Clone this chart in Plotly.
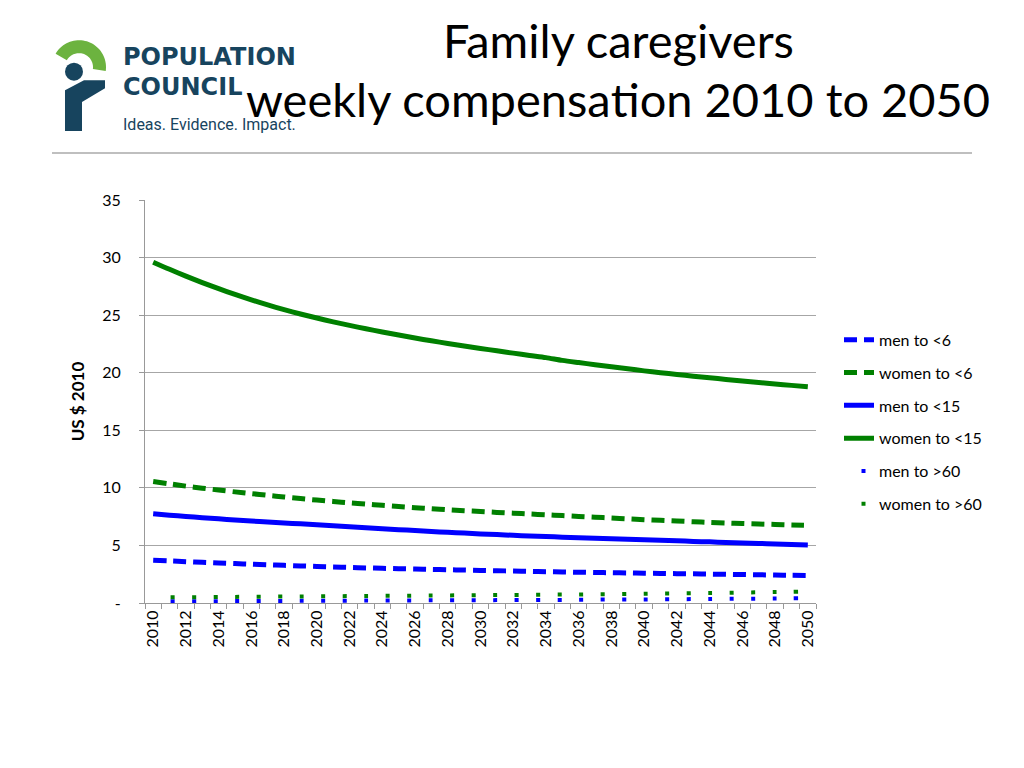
import numpy as np
import plotly.graph_objects as go

years = list(range(2010, 2051))

men_u6 = [3.71, 3.65, 3.59, 3.53, 3.47, 3.42, 3.37, 3.32, 3.27, 3.22, 3.17, 3.13, 3.09, 3.05,
          3.01, 2.98, 2.95, 2.92, 2.89, 2.86, 2.83, 2.80, 2.78, 2.75, 2.72, 2.70, 2.67, 2.65,
          2.63, 2.61, 2.59, 2.57, 2.55, 2.53, 2.51, 2.49, 2.47, 2.45, 2.43, 2.41, 2.39]
women_u6 = [10.55, 10.35, 10.15, 9.97, 9.81, 9.65, 9.50, 9.35, 9.21, 9.07, 8.94, 8.82, 8.70,
            8.59, 8.48, 8.38, 8.28, 8.19, 8.10, 8.02, 7.95, 7.87, 7.80, 7.73, 7.66, 7.59, 7.52,
            7.45, 7.38, 7.31, 7.24, 7.18, 7.12, 7.06, 7.00, 6.95, 6.90, 6.86, 6.82, 6.78, 6.75]
men_u15 = [7.75, 7.63, 7.52, 7.41, 7.31, 7.21, 7.12, 7.03, 6.95, 6.88, 6.80, 6.71, 6.62, 6.53,
           6.45, 6.37, 6.29, 6.21, 6.14, 6.07, 6.00, 5.94, 5.88, 5.82, 5.77, 5.72, 5.67, 5.62,
           5.57, 5.53, 5.49, 5.44, 5.40, 5.35, 5.31, 5.26, 5.22, 5.17, 5.13, 5.08, 5.04]
women_u15 = [29.6, 28.98, 28.39, 27.83, 27.30, 26.80, 26.33, 25.89, 25.48, 25.10, 24.75, 24.42,
             24.11, 23.82, 23.54, 23.27, 23.01, 22.77, 22.54, 22.32, 22.11, 21.90, 21.70, 21.50,
             21.31, 21.07, 20.88, 20.70, 20.52, 20.34, 20.16, 20.00, 19.85, 19.70, 19.56, 19.42,
             19.28, 19.15, 19.02, 18.90, 18.78]
men_o60 = [0.14, 0.15, 0.15, 0.16, 0.16, 0.17, 0.17, 0.18, 0.18, 0.19, 0.19, 0.20, 0.20, 0.21,
           0.21, 0.22, 0.22, 0.23, 0.23, 0.24, 0.24, 0.25, 0.25, 0.26, 0.27, 0.27, 0.28, 0.29,
           0.30, 0.31, 0.31, 0.32, 0.33, 0.34, 0.35, 0.36, 0.37, 0.38, 0.39, 0.40, 0.42]
women_o60 = [0.48, 0.49, 0.50, 0.51, 0.52, 0.53, 0.54, 0.55, 0.56, 0.57, 0.58, 0.59, 0.60, 0.61,
             0.62, 0.63, 0.64, 0.65, 0.66, 0.67, 0.68, 0.69, 0.70, 0.71, 0.72, 0.73, 0.74, 0.76,
             0.77, 0.79, 0.80, 0.82, 0.83, 0.85, 0.87, 0.89, 0.91, 0.93, 0.95, 0.97, 1.00]

tick_years = list(range(2010, 2051, 2))
y_ticks = [0, 5, 10, 15, 20, 25, 30, 35]
y_labels = ["-", "5", "10", "15", "20", "25", "30", "35"]

BLUE = "#0000FF"
GREEN = "#008000"
FONT = "Lato"

series = [
    ("men to <6", men_u6, BLUE, "13px,7px", 5),
    ("women to <6", women_u6, GREEN, "13px,7px", 5),
    ("men to <15", men_u15, BLUE, "solid", 5),
    ("women to <15", women_u15, GREEN, "solid", 5),
    ("men to >60", men_o60, BLUE, "0px,17.5px,4px,0px", 4),
    ("women to >60", women_o60, GREEN, "0px,17.5px,4px,0px", 4),
]

fig = go.Figure()
for i, (name, vals, col, dash, w) in enumerate(series):
    fig.add_trace(go.Scatter(x=years, y=vals, name=name, mode="lines",
                             legendgroup=f"g{i}",
                             line=dict(color=col, width=w, dash=dash,
                                       shape="spline", smoothing=0.8)))

# page body has an 8px margin; all layout numbers below are reference-pixel positions
OFF = 8
W, H = 1008, 752
L, R, T, B = 145 - OFF, 816 - OFF, 200 - OFF, 603.5 - OFF


def px(xv):
    return (xv - OFF - L) / (R - L)


def py(yv):
    return (B - (yv - OFF)) / (B - T)


fig.update_layout(
    width=W, height=H,
    margin=dict(l=L, r=W - R, t=T, b=H - B, autoexpand=False),
    paper_bgcolor="white", plot_bgcolor="white",
    font=dict(family=FONT, color="#000000", size=15),
    showlegend=True,
    legend=dict(x=px(839), xanchor="left", y=py(323), yanchor="top",
                font=dict(family=FONT, size=16, color="#000000"),
                tracegroupgap=9, bgcolor="rgba(0,0,0,0)", itemwidth=30),
    xaxis=dict(range=[2009.5, 2050.5], tickmode="array", tickvals=tick_years,
               ticktext=[str(y) for y in tick_years], tickangle=-90,
               ticks="", showgrid=False, zeroline=False,
               showline=True, linecolor="#999999", linewidth=1,
               tickfont=dict(family=FONT, size=16, color="#000000"),
               minor=dict(ticks="outside", tick0=2009.5, dtick=1, ticklen=5,
                          tickcolor="#999999", showgrid=False)),
    yaxis=dict(range=[0, 35], tickmode="array", tickvals=y_ticks, ticktext=y_labels,
               ticks="outside", ticklen=5, tickcolor="#999999", ticklabelstandoff=15,
               showgrid=True, gridcolor="#A6A6A6", gridwidth=1, zeroline=False,
               showline=True, linecolor="#999999", linewidth=1,
               tickfont=dict(family=FONT, size=16, color="#000000"),
               title=dict(text="<b>US $ 2010</b>", font=dict(family=FONT, size=17), standoff=13)),
)

# Title
fig.add_annotation(text="Family caregivers", xref="paper", yref="paper",
                   x=px(618), y=py(40), xanchor="center", yanchor="middle",
                   showarrow=False, font=dict(family=FONT, size=47, color="#000000"))
fig.add_annotation(text="weekly compensa\u200ction 2010 to 2050", xref="paper", yref="paper",
                   x=px(618), y=py(99), xanchor="center", yanchor="middle",
                   showarrow=False, font=dict(family=FONT, size=47, color="#000000"))

# Separator line
fig.add_shape(type="line", xref="paper", yref="paper", x0=px(52), x1=px(972), y0=py(153), y1=py(153),
              line=dict(color="#BFBFBF", width=2))

# Logo
LOGO_DARK = "#17445E"
LOGO_GREEN = "#6CB33F"
cx, cy = 79, 67
ang = np.linspace(np.deg2rad(150), np.deg2rad(-8), 40)
ro, ri = 27, 14
outer = [(cx + ro * np.cos(a), cy - ro * np.sin(a)) for a in ang]
inner = [(cx + ri * np.cos(a), cy - ri * np.sin(a)) for a in ang[::-1]]
pts = outer + inner
path = "M " + " L ".join(f"{px(x):.5f},{py(y):.5f}" for x, y in pts) + " Z"
fig.add_shape(type="path", xref="paper", yref="paper", path=path,
              fillcolor=LOGO_GREEN, line=dict(width=0))
fig.add_shape(type="circle", xref="paper", yref="paper",
              x0=px(65), x1=px(83), y0=py(62.5), y1=py(80.5),
              fillcolor=LOGO_DARK, line=dict(width=0))
stem = [(65, 131), (82, 131), (82, 102), (105, 88), (105, 80), (84, 80), (65, 90)]
spath = "M " + " L ".join(f"{px(x):.5f},{py(y):.5f}" for x, y in stem) + " Z"
fig.add_shape(type="path", xref="paper", yref="paper", path=spath,
              fillcolor=LOGO_DARK, line=dict(width=0))

fig.add_annotation(text="<b>POPULATION</b>", xref="paper", yref="paper", x=px(121), y=py(57),
                   xanchor="left", yanchor="middle", showarrow=False,
                   font=dict(family="DejaVu Sans", size=24, color=LOGO_DARK))
fig.add_annotation(text="<b>COUNCIL</b>", xref="paper", yref="paper", x=px(121), y=py(87),
                   xanchor="left", yanchor="middle", showarrow=False,
                   font=dict(family="DejaVu Sans", size=24, color=LOGO_DARK))
fig.add_annotation(text="Ideas. Evidence. Impact.", xref="paper", yref="paper", x=px(121), y=py(124),
                   xanchor="left", yanchor="middle", showarrow=False,
                   font=dict(family="Roboto", size=16, color=LOGO_DARK))

fig.write_html("out.html")
